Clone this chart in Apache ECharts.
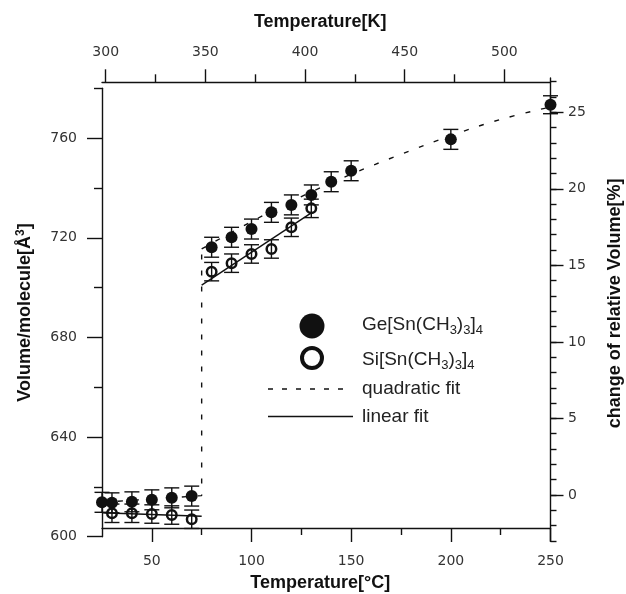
<!DOCTYPE html>
<html>
<head>
<meta charset="utf-8">
<script src="https://cdn.jsdelivr.net/npm/echarts@6/dist/echarts.min.js"></script>
<style>
  html, body { margin: 0; padding: 0; background: #fff; }
  #chart { width: 626px; height: 594px; }
</style>
</head>
<body>
<div id="chart"></div>
<script>
// Ge[Sn(CH3)3]4 : temperature (°C), volume per molecule (Å^3), error
const tempGe = [25, 30, 40, 50, 60, 70, 80, 90, 100, 110, 120, 130, 140, 150, 200, 250];
const volGe  = [613.8, 613.6, 614.0, 614.8, 615.6, 616.3, 716.2, 720.2, 723.5, 730.2, 733.2, 737.2, 742.5, 746.9, 759.5, 773.4];
const errGe  = [4, 4, 4, 4, 4, 4, 4, 4, 4, 4, 4, 4, 4, 4, 4, 3.6];

// Si[Sn(CH3)3]4
const tempSi = [30, 40, 50, 60, 70, 80, 90, 100, 110, 120, 130];
const volSi  = [609.4, 609.4, 609.1, 608.7, 607.0, 706.4, 709.8, 713.5, 715.5, 724.2, 731.8];
const errSi  = [3.7, 3.7, 3.7, 3.7, 3.7, 3.7, 3.7, 3.7, 3.7, 3.7, 3.7];

// fitted curves
const quadLowT  = [25, 75, 75];
const quadLowV  = [613.8, 616.5, 715.5];
const quadHighT = [75, 100, 125, 150, 175, 200, 225, 250];
const quadHighV = [715.5, 726.5, 736.5, 745.5, 753.5, 761, 767.5, 772.5];
const linLowT   = [25, 75];
const linLowV   = [609.6, 608.2];
const linHighT  = [75, 130];
const linHighV  = [701, 730];

// axis ticks
const celsiusTicks      = [50, 100, 150, 200, 250];
const celsiusMinorTicks = [75, 125, 175, 225];
const kelvinTicks       = [300, 350, 400, 450, 500];
const kelvinMinorTicks  = [325, 375, 425, 475];
const volumeTicks       = [600, 640, 680, 720, 760];
const volumeMinorTicks  = [620, 660, 700, 740, 780];
const percentTicks      = [0, 5, 10, 15, 20, 25];
const percentMinorTicks = [-3, -2, -1, 0, 1, 2, 3, 4, 5, 6, 7, 8, 9, 10, 11, 12, 13, 14, 15, 16, 17, 18, 19, 20, 21, 22, 23, 24, 25, 26, 27];

const zip = (a, b) => a.map((v, i) => [v, b[i]]);
const zip3 = (a, b, c) => a.map((v, i) => [v, b[i], c[i]]);

const INK = '#111';
const axisLine = { show: true, onZero: false, lineStyle: { color: INK, width: 1.4 } };
const noLine = { show: false, onZero: false };
const tickFont = { fontFamily: 'DejaVu Sans', fontSize: 14, color: '#333' };
const titleFont = { fontFamily: 'Liberation Sans, Arial', fontSize: 18, fontWeight: 'bold', color: INK };
const tickLine = { color: INK, width: 1.4 };

const chart = echarts.init(document.getElementById('chart'), null, { renderer: 'canvas' });

function errorBars(params, api) {
  const x = api.value(0), y = api.value(1), e = api.value(2);
  const hi = api.coord([x, y + e]);
  const lo = api.coord([x, y - e]);
  const w = 7.5;
  const st = { stroke: INK, lineWidth: 1.4 };
  return {
    type: 'group',
    children: [
      { type: 'line', shape: { x1: hi[0], y1: hi[1], x2: lo[0], y2: lo[1] }, style: st },
      { type: 'line', shape: { x1: hi[0] - w, y1: hi[1], x2: hi[0] + w, y2: hi[1] }, style: st },
      { type: 'line', shape: { x1: lo[0] - w, y1: lo[1], x2: lo[0] + w, y2: lo[1] }, style: st }
    ]
  };
}

const plotRect = { left: 102, top: 88.3, width: 448.5, height: 448.4, outerBoundsMode: 'none' };
const rightRect = { left: 102, top: 78, width: 448.5, height: 462.9, outerBoundsMode: 'none' };

const option = {
  animation: false,
  backgroundColor: '#fff',
  grid: [plotRect, plotRect, rightRect, rightRect],
  xAxis: [
    {
      gridIndex: 0, type: 'value', position: 'bottom', offset: -8.7, min: 25, max: 250,
      axisLine: axisLine,
      axisTick: { show: true, length: 14, lineStyle: tickLine, customValues: celsiusTicks },
      axisLabel: Object.assign({ margin: 26, customValues: celsiusTicks }, tickFont),
      splitLine: { show: false },
      name: 'Temperature[°C]', nameLocation: 'middle', nameGap: 46,
      nameTextStyle: Object.assign({ padding: [0, 12, 0, 0] }, titleFont)
    },
    {
      gridIndex: 0, type: 'value', position: 'top', offset: 6, min: 298.15, max: 523.15,
      axisLine: axisLine,
      axisTick: { show: true, length: 13, lineStyle: tickLine, customValues: kelvinTicks },
      axisLabel: Object.assign({ margin: 23, customValues: kelvinTicks }, tickFont),
      splitLine: { show: false },
      name: 'Temperature[K]', nameLocation: 'middle', nameGap: 51,
      nameTextStyle: Object.assign({ padding: [0, 12, 0, 0] }, titleFont)
    },
    {
      gridIndex: 1, type: 'value', position: 'bottom', offset: -8.7, min: 25, max: 250,
      axisLine: noLine,
      axisTick: { show: true, length: 7, lineStyle: tickLine, customValues: celsiusMinorTicks },
      axisLabel: { show: false }, splitLine: { show: false }
    },
    {
      gridIndex: 1, type: 'value', position: 'top', offset: 6, min: 298.15, max: 523.15,
      axisLine: noLine,
      axisTick: { show: true, length: 8, lineStyle: tickLine, customValues: kelvinMinorTicks },
      axisLabel: { show: false }, splitLine: { show: false }
    },
    { gridIndex: 2, type: 'value', min: 1, max: 2, show: false, axisLine: noLine },
    { gridIndex: 3, type: 'value', min: 1, max: 2, show: false, axisLine: noLine }
  ],
  yAxis: [
    {
      gridIndex: 0, type: 'value', position: 'left', min: 600, max: 780,
      axisLine: axisLine,
      axisTick: { show: true, length: 15, lineStyle: tickLine, customValues: volumeTicks },
      axisLabel: Object.assign({ margin: 25, customValues: volumeTicks }, tickFont),
      splitLine: { show: false },
      name: 'Volume/molecule[Å{sup|3}]', nameLocation: 'middle', nameRotate: 90, nameGap: 66,
      nameTextStyle: Object.assign({
        rich: { sup: { fontFamily: 'Liberation Sans, Arial', fontSize: 12, fontWeight: 'bold', color: INK, padding: [0, 0, 9, 0] } }
      }, titleFont)
    },
    {
      gridIndex: 1, type: 'value', position: 'left', min: 600, max: 780,
      axisLine: noLine,
      axisTick: { show: true, length: 8, lineStyle: tickLine, customValues: volumeMinorTicks },
      axisLabel: { show: false }, splitLine: { show: false }
    },
    {
      gridIndex: 2, type: 'value', position: 'right', min: -3, max: 27.24,
      axisLine: axisLine,
      axisTick: { show: true, length: 6, lineStyle: tickLine, customValues: percentMinorTicks },
      axisLabel: { show: false }, splitLine: { show: false },
      name: 'change of relative Volume[%]', nameLocation: 'middle', nameRotate: 90, nameGap: 56,
      nameTextStyle: Object.assign({ padding: [0, 0, 0, 12] }, titleFont)
    },
    {
      gridIndex: 3, type: 'value', position: 'right', min: -3, max: 27.24,
      axisLine: noLine,
      axisTick: { show: true, length: 13, lineStyle: tickLine, customValues: percentTicks },
      axisLabel: Object.assign({ margin: 17.5, customValues: percentTicks }, tickFont),
      splitLine: { show: false }
    }
  ],
  series: [
    {
      name: 'quadratic fit', type: 'line', xAxisIndex: 0, yAxisIndex: 0, z: 1,
      data: zip(quadLowT, quadLowV), symbol: 'none', silent: true,
      lineStyle: { color: INK, width: 1.4, type: [5, 11] }
    },
    {
      name: 'quadratic fit', type: 'line', xAxisIndex: 0, yAxisIndex: 0, z: 1,
      data: zip(quadHighT, quadHighV), symbol: 'none', smooth: 0.4, silent: true,
      lineStyle: { color: INK, width: 1.4, type: [5, 11] }
    },
    {
      name: 'linear fit', type: 'line', xAxisIndex: 0, yAxisIndex: 0, z: 1,
      data: zip(linLowT, linLowV), symbol: 'none', silent: true,
      lineStyle: { color: INK, width: 1.4 }
    },
    {
      name: 'linear fit', type: 'line', xAxisIndex: 0, yAxisIndex: 0, z: 1,
      data: zip(linHighT, linHighV), symbol: 'none', silent: true,
      lineStyle: { color: INK, width: 1.4 }
    },
    {
      name: 'Ge error', type: 'custom', xAxisIndex: 0, yAxisIndex: 0, z: 2,
      renderItem: errorBars, data: zip3(tempGe, volGe, errGe), silent: true
    },
    {
      name: 'Si error', type: 'custom', xAxisIndex: 0, yAxisIndex: 0, z: 2,
      renderItem: errorBars, data: zip3(tempSi, volSi, errSi), silent: true
    },
    {
      name: 'Ge[Sn(CH3)3]4', type: 'scatter', xAxisIndex: 0, yAxisIndex: 0, z: 3,
      data: zip(tempGe, volGe), symbol: 'circle', symbolSize: 12,
      itemStyle: { color: INK, opacity: 1 }
    },
    {
      name: 'Si[Sn(CH3)3]4', type: 'scatter', xAxisIndex: 0, yAxisIndex: 0, z: 3,
      data: zip(tempSi, volSi), symbol: 'circle', symbolSize: 9.5,
      itemStyle: { color: 'transparent', borderColor: INK, borderWidth: 2.5, opacity: 1 }
    }
  ],
  graphic: [
    // legend: symbols
    { type: 'circle', shape: { cx: 312, cy: 326, r: 12.5 }, style: { fill: INK }, z: 10 },
    { type: 'circle', shape: { cx: 312, cy: 358, r: 10 }, style: { fill: 'none', stroke: INK, lineWidth: 4 }, z: 10 },
    { type: 'line', shape: { x1: 268, y1: 389, x2: 345, y2: 389 }, style: { stroke: INK, lineWidth: 1.4, lineDash: [5, 9] }, z: 10 },
    { type: 'line', shape: { x1: 268, y1: 416.5, x2: 353, y2: 416.5 }, style: { stroke: INK, lineWidth: 1.5 }, z: 10 },
    // legend: labels
    {
      type: 'text', x: 362, y: 325, z: 10,
      style: {
        text: 'Ge[Sn(CH{s|3}){s|3}]{s|4}', fontFamily: 'Liberation Sans, Arial', fontSize: 19, fill: '#222',
        verticalAlign: 'middle',
        rich: { s: { fontFamily: 'Liberation Sans, Arial', fontSize: 13, fill: '#222', padding: [11, 0, 0, 0] } }
      }
    },
    {
      type: 'text', x: 362, y: 360, z: 10,
      style: {
        text: 'Si[Sn(CH{s|3}){s|3}]{s|4}', fontFamily: 'Liberation Sans, Arial', fontSize: 19, fill: '#222',
        verticalAlign: 'middle',
        rich: { s: { fontFamily: 'Liberation Sans, Arial', fontSize: 13, fill: '#222', padding: [11, 0, 0, 0] } }
      }
    },
    {
      type: 'text', x: 362, y: 389, z: 10,
      style: { text: 'quadratic fit', fontFamily: 'Liberation Sans, Arial', fontSize: 19, fill: '#222', verticalAlign: 'middle' }
    },
    {
      type: 'text', x: 362, y: 416.5, z: 10,
      style: { text: 'linear fit', fontFamily: 'Liberation Sans, Arial', fontSize: 19, fill: '#222', verticalAlign: 'middle' }
    }
  ]
};

chart.setOption(option);
</script>
</body>
</html>
